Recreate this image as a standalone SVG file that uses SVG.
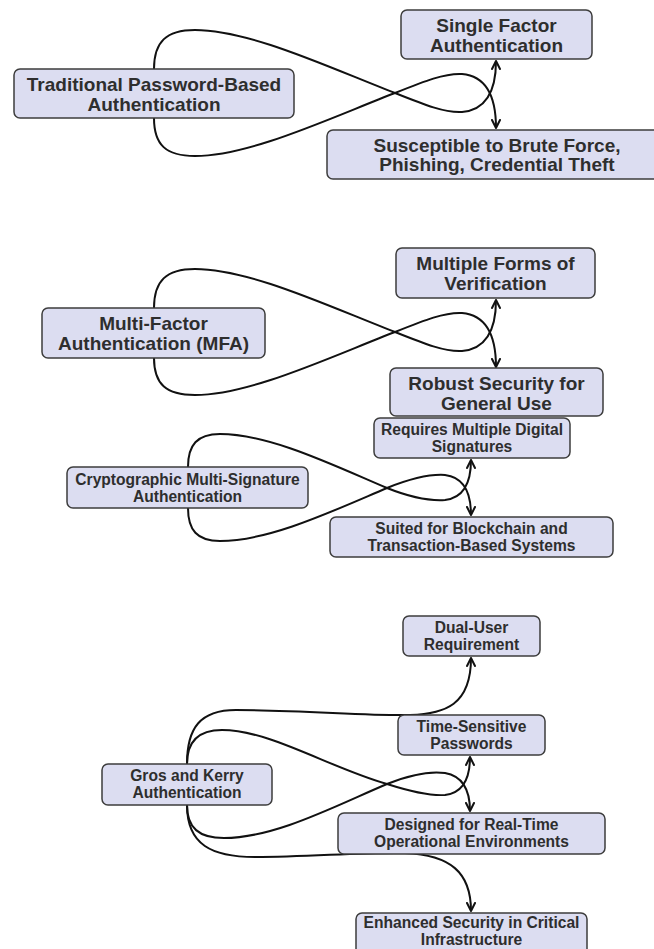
<svg xmlns="http://www.w3.org/2000/svg" width="654" height="949" viewBox="0 0 654 949">
  <defs>
    <marker id="arrow" viewBox="0 0 10 10" refX="9" refY="5" markerWidth="10" markerHeight="10" markerUnits="userSpaceOnUse" orient="auto">
      <path d="M1,1 L9,5 L1,9" fill="none" stroke="#111" stroke-width="2" stroke-linecap="round" stroke-linejoin="round"/>
    </marker>
    <style>
      .node rect { fill: #dcddf1; stroke: #3d3d3d; stroke-width: 1.5; }
      .node text { font-family: "Liberation Sans", Arial, sans-serif; font-weight: bold; fill: #2e2e2e; text-anchor: middle; }
      .lg text { font-size: 19px; }
      .sm text { font-size: 15.6px; }
      .edges path { fill: none; stroke: #111; stroke-width: 2; marker-end: url(#arrow); }
    </style>
  </defs>

  <rect width="654" height="949" fill="#ffffff"/>

  <!-- connectors -->
  <g class="edges">
    <!-- password-based -->
    <path d="M154,69 C154,42 166,30 195,30 C250,30 330,68 395,93 C425,105 445,113 462,112 C485,110 496,92 496,61"/>
    <path d="M154,118 C154,145 166,156 195,156 C250,156 330,118 395,93 C425,81 445,73 462,74 C485,76 496,94 496,128"/>
    <!-- MFA -->
    <path d="M154,308 C154,281 166,269 195,269 C250,269 330,307 395,332 C425,344 445,352 462,351 C485,349 496,331 496,300"/>
    <path d="M154,358 C154,384 166,395 195,395 C250,395 330,357 395,332 C425,320 445,312 462,313 C485,315 496,333 496,367"/>
    <!-- multi-signature -->
    <path d="M188,467 C188,445 197,434 220,434 C270,434 335,466 387,488 C412,498 430,501 445,500 C462,498 471,485 471,460"/>
    <path d="M188,508 C188,530 197,541 220,541 C270,541 335,510 387,488 C412,478 430,474 445,475 C462,477 471,490 471,515"/>
    <!-- Gros and Kerry -->
    <path d="M187,764 C187,728 200,710 236,710 C300,710 370,716 410,715 C445,714 471,705 471,658"/>
    <path d="M187,764 C187,742 198,730 222,730 C270,730 330,768 387,784 C412,792 430,796 445,795 C462,793 470,780 470,757"/>
    <path d="M187,805 C187,828 199,838 224,838 C275,838 335,806 387,784 C412,774 430,771 445,773 C462,776 470,790 470,811"/>
    <path d="M187,805 C187,845 212,857 255,857 C310,857 360,852 405,853 C450,855 471,872 471,911"/>
  </g>

  <!-- password-based authentication -->
  <g id="traditional" class="node lg">
    <rect x="14" y="69" width="280" height="49" rx="6"/>
    <text x="154" y="91">Traditional Password-Based</text>
    <text x="154" y="111">Authentication</text>
  </g>
  <g id="single-factor" class="node lg">
    <rect x="401" y="10" width="191" height="49" rx="6"/>
    <text x="496.5" y="32">Single Factor</text>
    <text x="496.5" y="52">Authentication</text>
  </g>
  <g id="susceptible" class="node lg">
    <rect x="327" y="130" width="340" height="49" rx="6"/>
    <text x="497" y="151.5">Susceptible to Brute Force,</text>
    <text x="497" y="171">Phishing, Credential Theft</text>
  </g>

  <!-- multi-factor authentication -->
  <g id="mfa" class="node lg">
    <rect x="42" y="308" width="223" height="50" rx="6"/>
    <text x="153.5" y="329.5">Multi-Factor</text>
    <text x="153.5" y="349.5">Authentication (MFA)</text>
  </g>
  <g id="multiple-forms" class="node lg">
    <rect x="396" y="248" width="199" height="50" rx="6"/>
    <text x="495.5" y="269.5">Multiple Forms of</text>
    <text x="495.5" y="290">Verification</text>
  </g>
  <g id="robust" class="node lg">
    <rect x="390" y="368" width="213" height="48" rx="6"/>
    <text x="496.5" y="390">Robust Security for</text>
    <text x="496.5" y="410">General Use</text>
  </g>

  <!-- cryptographic multi-signature authentication -->
  <g id="multisig" class="node sm">
    <rect x="67" y="467" width="241" height="41" rx="6"/>
    <text x="187.5" y="484.5">Cryptographic Multi-Signature</text>
    <text x="187.5" y="501.5">Authentication</text>
  </g>
  <g id="requires-signatures" class="node sm">
    <rect x="374" y="418" width="196" height="40" rx="6"/>
    <text x="472" y="435">Requires Multiple Digital</text>
    <text x="472" y="452">Signatures</text>
  </g>
  <g id="blockchain" class="node sm">
    <rect x="330" y="517" width="283" height="40" rx="6"/>
    <text x="471.5" y="533.5">Suited for Blockchain and</text>
    <text x="471.5" y="550.5">Transaction-Based Systems</text>
  </g>

  <!-- Gros and Kerry authentication -->
  <g id="gros-kerry" class="node sm">
    <rect x="102" y="764" width="170" height="41" rx="6"/>
    <text x="187" y="781">Gros and Kerry</text>
    <text x="187" y="798">Authentication</text>
  </g>
  <g id="dual-user" class="node sm">
    <rect x="403" y="616" width="137" height="40" rx="6"/>
    <text x="471.5" y="632.5">Dual-User</text>
    <text x="471.5" y="649.5">Requirement</text>
  </g>
  <g id="time-sensitive" class="node sm">
    <rect x="398" y="715" width="147" height="40" rx="6"/>
    <text x="471.5" y="731.5">Time-Sensitive</text>
    <text x="471.5" y="748.5">Passwords</text>
  </g>
  <g id="real-time" class="node sm">
    <rect x="338" y="813" width="267" height="41" rx="6"/>
    <text x="471.5" y="830">Designed for Real-Time</text>
    <text x="471.5" y="847">Operational Environments</text>
  </g>
  <g id="critical-infra" class="node sm">
    <rect x="356" y="913" width="231" height="42" rx="6"/>
    <text x="471.5" y="928">Enhanced Security in Critical</text>
    <text x="471.5" y="945">Infrastructure</text>
  </g>
</svg>
